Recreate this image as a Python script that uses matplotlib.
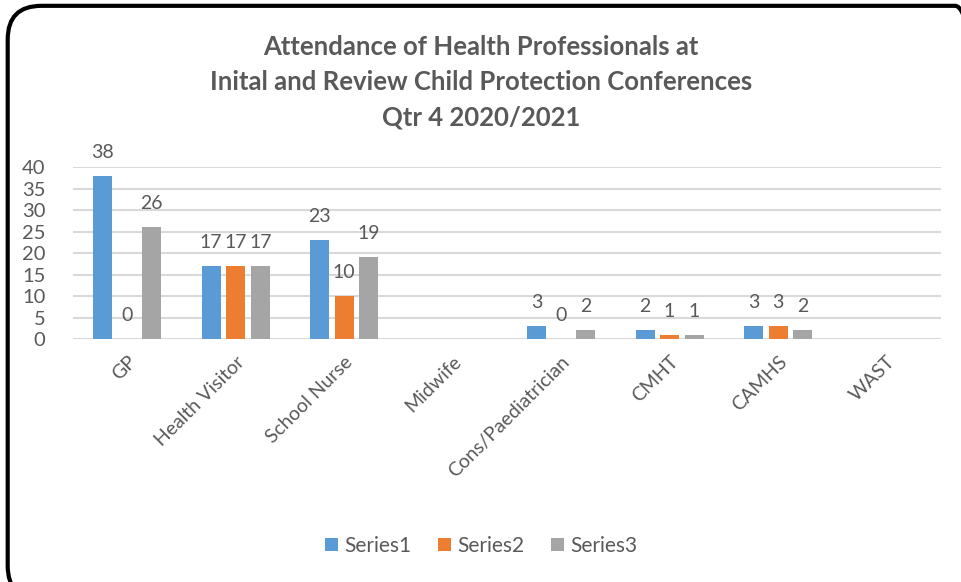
import numpy as np
import matplotlib.pyplot as plt
from matplotlib.patches import FancyBboxPatch

# Data
categories = ["GP", "Health Visitor", "School Nurse", "Midwife",
              "Cons/Paediatrician", "CMHT", "CAMHS", "WAST"]
series1 = [38, 17, 23, np.nan, 3, 2, 3, np.nan]
series2 = [0, 17, 10, np.nan, 0, 1, 3, np.nan]
series3 = [26, 17, 19, np.nan, 2, 1, 2, np.nan]
series_names = ["Series1", "Series2", "Series3"]
colors = ["#5b9bd5", "#ed7d31", "#a5a5a5"]

text_col = "#595959"
plt.rcParams['font.family'] = ['Lato', 'DejaVu Sans']

fig = plt.figure(figsize=(9.62, 5.82), dpi=100)
ax = fig.add_axes([0.0759, 0.4175, 0.902, 0.2955])

x = np.arange(len(categories))
width = 0.175
pitch = 0.226
for i, (vals, name, c) in enumerate(zip([series1, series2, series3], series_names, colors)):
    pos = x + (i - 1) * pitch
    ax.bar(pos, vals, width, color=c, label=name, zorder=3)
    for px, v in zip(pos, vals):
        if np.isnan(v):
            continue
        ax.annotate(f"{v:.0f}", (px, v), xytext=(0, 17), textcoords="offset points",
                    ha="center", va="center", fontsize=14, color=text_col)

ax.set_ylim(0, 40)
ax.set_xlim(-0.5, len(categories) - 0.5)
ax.set_yticks(range(0, 41, 5))
ax.yaxis.grid(True, color="#d9d9d9", linewidth=1.5, zorder=0)
for s in ax.spines.values():
    s.set_visible(False)
ax.tick_params(axis="both", length=0, labelsize=14.5, colors=text_col)
ax.tick_params(axis="y", pad=20)
ax.set_xticks(x)
ax.set_xticklabels(categories, rotation=45, ha="right", va="top",
                   rotation_mode="anchor", fontsize=14)
ax.tick_params(axis="x", pad=10)

fig.text(0.5, 0.859, "Attendance of Health Professionals at\nInital and Review Child Protection Conferences\nQtr 4 2020/2021",
         ha="center", va="center", fontsize=18.5, fontweight="bold", color=text_col,
         linespacing=1.55)

fig.legend(loc="center", bbox_to_anchor=(0.5, 0.062), ncol=3, frameon=False,
           fontsize=15, handlelength=0.6, handleheight=0.6, columnspacing=1.3,
           handletextpad=0.3, labelcolor=text_col)

border = FancyBboxPatch((0.008, -0.03), 1.02, 1.02, boxstyle="round,pad=0,rounding_size=0.035",
                        transform=fig.transFigure, facecolor="none", edgecolor="black",
                        linewidth=3, mutation_aspect=962 / 582)
fig.patches.append(border)

fig.savefig("out.png", dpi=100)
